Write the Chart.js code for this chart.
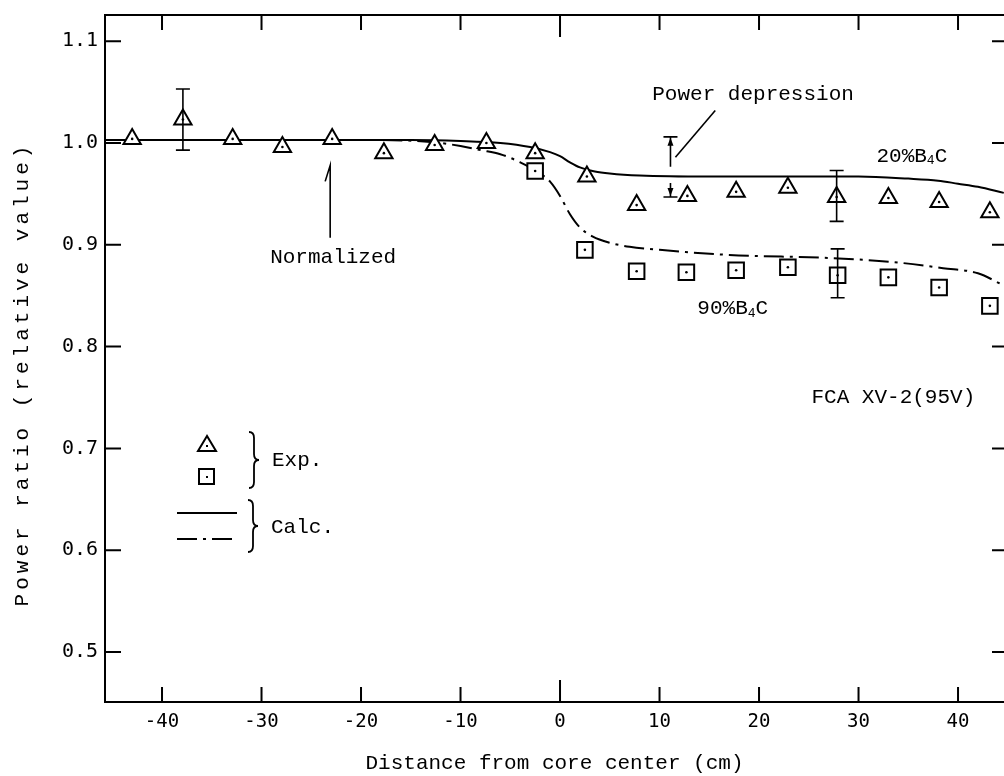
<!DOCTYPE html>
<html>
<head>
<meta charset="utf-8">
<script src="https://cdn.jsdelivr.net/npm/chart.js@4.4.1/dist/chart.umd.min.js"></script>
<style>
  html, body { margin: 0; padding: 0; background: #fff; overflow: hidden; }
  #wrap { width: 1004px; height: 776px; }
  #powerChart { display: block; width: 1004px; height: 776px; }
</style>
</head>
<body>
<div id="wrap"><canvas id="powerChart" width="1004" height="776"></canvas></div>
<script>
// tick values
const xTicks = [-40, -30, -20, -10, 0, 10, 20, 30, 40];
const yTicks = [0.5, 0.6, 0.7, 0.8, 0.9, 1.0, 1.1];

// experiment, 20% B4C (triangles)
const expX20 = [-43, -37.9, -32.9, -27.9, -22.9, -17.7, -12.6, -7.4, -2.5, 2.7, 7.7, 12.8, 17.7, 22.9, 27.8, 33.0, 38.1, 43.2];
const exp20 = [1.004, 1.023, 1.004, 0.996, 1.004, 0.990, 0.998, 1.000, 0.990, 0.967, 0.939, 0.948, 0.952, 0.956, 0.947, 0.946, 0.942, 0.932];

// experiment, 90% B4C (squares)
const expX90 = [-2.5, 2.5, 7.7, 12.7, 17.7, 22.9, 27.9, 33.0, 38.1, 43.2];
const exp90 = [0.9725, 0.895, 0.874, 0.873, 0.875, 0.878, 0.870, 0.868, 0.858, 0.840];

// error bars
const errX = [-37.9, 27.8, 27.9];
const errLo = [0.993, 0.923, 0.848];
const errHi = [1.053, 0.973, 0.896];

// calculation curves
const calcX20 = [-46, -30, -15, -10, -6, -3, -1, 0, 1, 2, 3.5, 5, 8, 15, 25, 30, 35, 38, 40, 42, 44.6];
const calc20 = [1.003, 1.003, 1.003, 1.002, 1.000, 0.996, 0.991, 0.987, 0.981, 0.976, 0.972, 0.970, 0.968, 0.967, 0.967, 0.967, 0.965, 0.963, 0.960, 0.957, 0.951];
const calcX90 = [-46, -20, -13, -10, -8, -6, -4, -2, -1, 0, 1, 2, 3.3, 5, 7, 10, 17, 27, 33.5, 38.5, 42, 44.6];
const calc90 = [1.003, 1.003, 1.001, 0.997, 0.993, 0.989, 0.981, 0.970, 0.962, 0.948, 0.930, 0.917, 0.908, 0.902, 0.898, 0.895, 0.890, 0.887, 0.883, 0.877, 0.872, 0.860];

// power depression marker (x, top, bottom)
const depX = 11.1;
const depTop = 1.006;
const depBottom = 0.947;

const MONO = "'Liberation Mono', 'DejaVu Sans Mono', monospace";

function pts(xs, ys) {
    return xs.map((x, i) => ({ x: x, y: ys[i] }));
}

function drawSubText(ctx, x, y, parts, size) {
    // parts: plain strings, or {sub: '4'}
    let cx = x;
    parts.forEach(p => {
        if (typeof p === 'string') {
            ctx.font = size + "px " + MONO;
            ctx.fillText(p, cx, y);
            cx += ctx.measureText(p).width;
        } else {
            ctx.font = Math.round(size * 0.6) + "px " + MONO;
            ctx.fillText(p.sub, cx, y + size * 0.2);
            cx += ctx.measureText(p.sub).width;
        }
    });
}

function brace(ctx, x, y1, y2) {
    const m = (y1 + y2) / 2;
    ctx.beginPath();
    ctx.moveTo(x - 5, y1);
    ctx.quadraticCurveTo(x, y1, x, y1 + 6);
    ctx.lineTo(x, m - 6);
    ctx.quadraticCurveTo(x, m, x + 5, m);
    ctx.quadraticCurveTo(x, m, x, m + 6);
    ctx.lineTo(x, y2 - 6);
    ctx.quadraticCurveTo(x, y2, x - 5, y2);
    ctx.stroke();
}

const decorPlugin = {
    id: 'decor',
    afterDatasetsDraw(chart) {
        const ctx = chart.ctx;
        const xs = chart.scales.x, ys = chart.scales.y;
        const a = chart.chartArea;
        const X = v => xs.getPixelForValue(v);
        const Y = v => ys.getPixelForValue(v);
        ctx.save();
        ctx.strokeStyle = '#000';
        ctx.fillStyle = '#000';
        ctx.lineWidth = 2;

        // frame
        ctx.strokeRect(a.left, a.top, a.right - a.left + 4, a.bottom - a.top);

        // inward ticks
        ctx.beginPath();
        xTicks.forEach(v => {
            const len = v === 0 ? 22 : 15;
            ctx.moveTo(X(v), a.bottom);
            ctx.lineTo(X(v), a.bottom - len);
            ctx.moveTo(X(v), a.top);
            ctx.lineTo(X(v), a.top + len);
        });
        yTicks.forEach(v => {
            ctx.moveTo(a.left, Y(v));
            ctx.lineTo(a.left + 16, Y(v));
            ctx.moveTo(a.right, Y(v));
            ctx.lineTo(a.right - 12, Y(v));
        });
        ctx.stroke();

        // error bars
        ctx.lineWidth = 1.6;
        errX.forEach((x, i) => {
            const px = X(x), top = Y(errHi[i]), bot = Y(errLo[i]);
            ctx.beginPath();
            ctx.moveTo(px, top); ctx.lineTo(px, bot);
            ctx.moveTo(px - 7, top); ctx.lineTo(px + 7, top);
            ctx.moveTo(px - 7, bot); ctx.lineTo(px + 7, bot);
            ctx.stroke();
        });

        // power depression dimension
        const dx = X(depX), dt = Y(depTop), db = Y(depBottom);
        ctx.beginPath();
        ctx.moveTo(dx - 7, dt); ctx.lineTo(dx + 7, dt);
        ctx.moveTo(dx - 7, db); ctx.lineTo(dx + 7, db);
        ctx.moveTo(dx, dt); ctx.lineTo(dx, dt + 30);
        ctx.moveTo(dx, db); ctx.lineTo(dx, db - 14);
        ctx.stroke();
        ctx.beginPath();
        ctx.moveTo(dx, dt + 1); ctx.lineTo(dx - 3, dt + 9); ctx.lineTo(dx + 3, dt + 9); ctx.closePath();
        ctx.moveTo(dx, db - 1); ctx.lineTo(dx - 3, db - 9); ctx.lineTo(dx + 3, db - 9); ctx.closePath();
        ctx.fill();

        // leader from "Power depression"
        ctx.lineWidth = 1.6;
        ctx.beginPath();
        ctx.moveTo(X(15.6), Y(1.032));
        ctx.lineTo(X(11.6), Y(0.986));
        ctx.stroke();

        // "Normalized" arrow
        const nx = X(-23.1);
        ctx.beginPath();
        ctx.moveTo(nx, Y(0.907));
        ctx.lineTo(nx, Y(0.978));
        ctx.lineTo(nx - 5, Y(0.978) + 16);
        ctx.stroke();

        // annotation text
        ctx.textBaseline = 'middle';
        ctx.textAlign = 'center';
        ctx.font = "21px " + MONO;
        ctx.fillText('Power depression', X(19.4), Y(1.048));
        ctx.fillText('Normalized', X(-22.8), Y(0.888));
        ctx.fillText('FCA XV-2(95V)', X(33.5), Y(0.750));
        ctx.textAlign = 'left';
        drawSubText(ctx, X(31.8), Y(0.987), ['20%B', { sub: '4' }, 'C'], 21);
        drawSubText(ctx, X(13.8), Y(0.837), ['90%B', { sub: '4' }, 'C'], 21);

        // legend
        ctx.lineWidth = 2;
        ctx.beginPath();
        ctx.moveTo(207, 436); ctx.lineTo(198, 451); ctx.lineTo(216, 451); ctx.closePath();
        ctx.stroke();
        ctx.fillRect(206, 445, 2, 2);
        ctx.strokeRect(199, 469, 15, 15);
        ctx.fillRect(206, 476, 2, 2);
        ctx.beginPath();
        ctx.moveTo(177, 513); ctx.lineTo(237, 513);
        ctx.stroke();
        ctx.setLineDash([20, 6, 3, 6]);
        ctx.beginPath();
        ctx.moveTo(177, 539); ctx.lineTo(238, 539);
        ctx.stroke();
        ctx.setLineDash([]);
        ctx.lineWidth = 1.8;
        brace(ctx, 254, 432, 488);
        brace(ctx, 253, 500, 552);
        ctx.font = "21px " + MONO;
        ctx.fillText('Exp.', 272, 460);
        ctx.fillText('Calc.', 271, 527);

        // y axis title, letter-spaced like the typewriter original
        ctx.save();
        ctx.translate(22, 376);
        ctx.rotate(-Math.PI / 2);
        ctx.textAlign = 'center';
        ctx.letterSpacing = '4px';
        ctx.font = "21px " + MONO;
        ctx.fillText('Power ratio (relative value)', 2, 0);
        ctx.restore();

        ctx.restore();
    }
};

const ctx = document.getElementById('powerChart').getContext('2d');
new Chart(ctx, {
    type: 'scatter',
    data: {
        datasets: [
            {
                label: 'dots20', data: pts(expX20, exp20), order: 0,
                pointStyle: 'circle', pointRadius: 1.3, backgroundColor: '#000', borderColor: '#000', borderWidth: 0
            },
            {
                label: 'dots90', data: pts(expX90, exp90), order: 0,
                pointStyle: 'circle', pointRadius: 1.3, backgroundColor: '#000', borderColor: '#000', borderWidth: 0
            },
            {
                label: 'Exp. 20%B4C', data: pts(expX20, exp20), order: 1,
                pointStyle: 'triangle', pointRadius: 10, backgroundColor: '#fff', borderColor: '#000', borderWidth: 2
            },
            {
                label: 'Exp. 90%B4C', data: pts(expX90, exp90), order: 1,
                pointStyle: 'rect', pointRadius: 11, backgroundColor: '#fff', borderColor: '#000', borderWidth: 2
            },
            {
                label: 'Calc. 20%B4C', data: pts(calcX20, calc20), order: 2,
                showLine: true, pointRadius: 0, borderColor: '#000', borderWidth: 2,
                cubicInterpolationMode: 'monotone'
            },
            {
                label: 'Calc. 90%B4C', data: pts(calcX90, calc90), order: 2,
                showLine: true, pointRadius: 0, borderColor: '#000', borderWidth: 2,
                borderDash: [20, 6, 3, 6], cubicInterpolationMode: 'monotone'
            }
        ]
    },
    options: {
        responsive: false,
        animation: false,
        devicePixelRatio: 1,
        layout: { autoPadding: false, padding: { top: 15, right: 0, left: 0, bottom: 0 } },
        plugins: { legend: { display: false }, tooltip: { enabled: false } },
        scales: {
            x: {
                type: 'linear',
                min: -45.73,
                max: 44.62,
                grid: { display: false, drawTicks: false },
                border: { display: false },
                afterBuildTicks: s => { s.ticks = xTicks.map(v => ({ value: v })); },
                afterFit: s => { s.height = 74; s.paddingLeft = 0; s.paddingRight = 0; },
                ticks: {
                    padding: 9,
                    color: '#000',
                    font: { family: "'DejaVu Sans Mono', monospace", size: 19 },
                    callback: v => String(v)
                },
                title: {
                    display: true,
                    text: 'Distance from core center (cm)',
                    color: '#000',
                    font: { family: MONO, size: 21 },
                    padding: { top: 10, bottom: 0 }
                }
            },
            y: {
                type: 'linear',
                min: 0.4509,
                max: 1.1257,
                grid: { display: false, drawTicks: false },
                border: { display: false },
                afterBuildTicks: s => { s.ticks = yTicks.map(v => ({ value: v })); },
                afterFit: s => { s.width = 105; s.paddingTop = 0; s.paddingBottom = 0; },
                ticks: {
                    padding: 7,
                    color: '#000',
                    font: { family: "'DejaVu Sans Mono', monospace", size: 20 },
                    callback: v => v.toFixed(1)
                },
                title: { display: false }
            }
        }
    },
    plugins: [decorPlugin]
});
</script>
</body>
</html>
